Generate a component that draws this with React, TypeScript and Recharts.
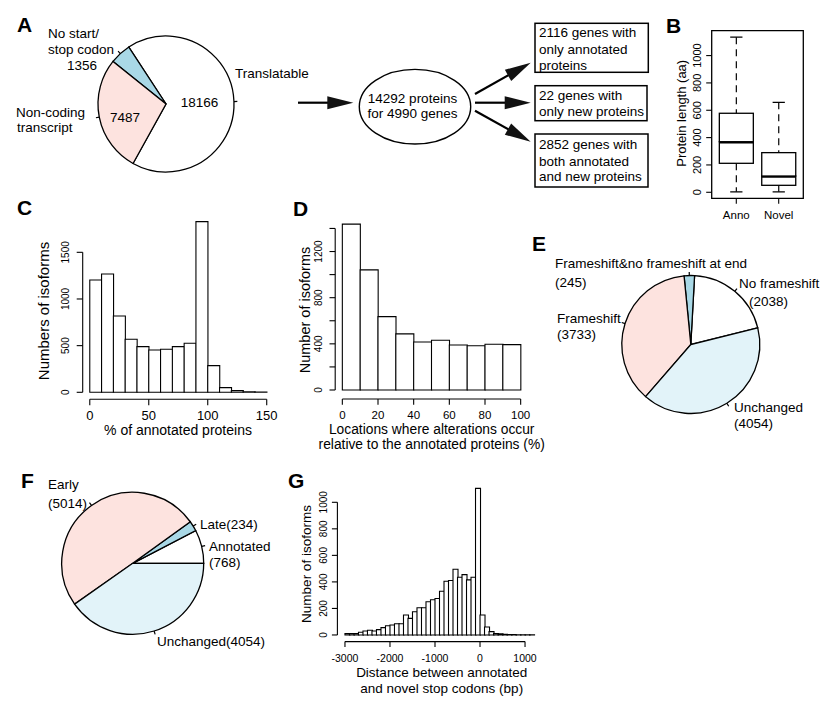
import React from "react";
import { BarChart, Bar, XAxis, YAxis, ReferenceLine, ReferenceArea, PieChart, Pie, Cell } from "recharts";

const FONT = '"Liberation Sans", Arial, Helvetica, sans-serif';
const PINK = "#fde3df";
const BLUE = "#a9d8e6";
const PALE = "#e2f3f9";
const RAD = Math.PI / 180;

// A: transcript classes
const pieANames = ["Translatable", "No start/stop codon", "Non-coding transcript"];
const pieAValues = [18166, 1356, 7487];
const pieAColors = ["#ffffff", BLUE, PINK];

// B: protein length boxplots
const boxNames = ["Anno", "Novel"];
const boxMin = [3, 3];
const boxQ1 = [212, 51];
const boxMedian = [370, 119];
const boxQ3 = [578, 290];
const boxMax = [1135, 658];
const boxYTicks = [0, 200, 400, 600, 800, 1000];

// C: % of annotated proteins
const binStartC = [0, 10, 20, 30, 40, 50, 60, 70, 80, 90, 100, 110, 120, 130, 140];
const countsC = [1204, 1268, 818, 568, 489, 454, 461, 489, 525, 1829, 286, 50, 18, 5, 3];
const xTicksC = [0, 50, 100, 150];
const yTicksC = [0, 500, 1000, 1500];

// D: alteration locations
const binStartD = [0, 10, 20, 30, 40, 50, 60, 70, 80, 90];
const countsD = [1437, 1041, 636, 486, 416, 431, 390, 384, 396, 393];
const xTicksD = [0, 20, 40, 60, 80, 100];
const yTicksD = [0, 200, 400, 600, 800, 1000, 1200, 1400];
const yLabelsD = [0, 400, 800, 1200];

// E: frameshift classes
const pieENames = ["No frameshift", "Frameshift&no frameshift at end", "Frameshift", "Unchanged"];
const pieEValues = [2038, 245, 3733, 4054];
const pieEColors = ["#ffffff", BLUE, PINK, PALE];

// F: stop codon classes
const pieFNames = ["Annotated", "Late", "Early", "Unchanged"];
const pieFValues = [768, 234, 5014, 4054];
const pieFColors = ["#ffffff", BLUE, PINK, PALE];

// G: distance between stop codons
const binStartG = [
  -3000, -2900, -2800, -2700, -2600, -2500, -2400, -2300, -2200, -2100,
  -2000, -1900, -1800, -1700, -1600, -1500, -1400, -1300, -1200, -1100,
  -1000, -900, -800, -700, -600, -500, -400, -300, -200, -100,
  0, 100, 200, 300, 400, 500, 600, 700, 800, 900, 1000, 1100,
];
const countsG = [
  10, 10, 10, 20, 30, 35, 30, 40, 55, 70,
  75, 85, 85, 150, 125, 175, 205, 205, 250, 265,
  275, 330, 405, 410, 495, 435, 455, 415, 435, 1105,
  150, 60, 25, 10, 8, 5, 3, 3, 2, 2, 1, 1,
];
const xTicksG = [-3000, -2000, -1000, 0, 1000];
const yTicksG = [0, 200, 400, 600, 800, 1000];

const toBins = (starts: number[], counts: number[], w: number) =>
  starts.map((s, i) => ({ x: s + w / 2, n: counts[i] }));

const makeXTick = (off: number, size: number, fmt: (v: number) => string = String) => (p: any) => (
  <text x={p.x} y={p.y + off} dy="0.35em" textAnchor="middle" fontSize={size} fill="#000" fontFamily={FONT}>
    {fmt(p.payload.value)}
  </text>
);

const makeYTick = (off: number, size: number, shown?: number[]) => (p: any) => {
  if (shown && !shown.includes(p.payload.value)) return <g />;
  return (
    <text transform={`translate(${p.x + off},${p.y}) rotate(-90)`} dy="0.35em" textAnchor="middle" fontSize={size} fill="#000" fontFamily={FONT}>
      {p.payload.value}
    </text>
  );
};

type HistProps = {
  left: number; top: number; width: number; height: number;
  plot: { l: number; r: number; t: number; b: number };
  data: { x: number; n: number }[];
  xDomain: [number, number]; yDomain: [number, number];
  xTicks: number[]; yTicks: number[]; yShown?: number[];
  xOff: number; yOff: number; xFont: number; yFont: number; tick: number;
};

function Histogram(p: HistProps) {
  const margin = {
    left: 0,
    top: p.plot.t - p.top,
    right: p.left + p.width - p.plot.r,
    bottom: p.top + p.height - p.plot.b - 30,
  };
  const tl = { stroke: "#000", strokeWidth: 1.1 };
  return (
    <div style={{ position: "absolute", left: p.left, top: p.top }}>
      <BarChart width={p.width} height={p.height} data={p.data} margin={margin} barCategoryGap={0} barGap={0}>
        <XAxis dataKey="x" type="number" domain={p.xDomain} ticks={p.xTicks} allowDataOverflow interval={0}
          axisLine={false} tickLine={tl} tickSize={p.tick} tickMargin={2} height={30} tick={makeXTick(p.xOff, p.xFont)} />
        <YAxis type="number" domain={p.yDomain} ticks={p.yTicks} allowDataOverflow interval={0}
          axisLine={false} tickLine={tl} tickSize={p.tick} tickMargin={2} width={p.plot.l - p.left} tick={makeYTick(p.yOff, p.yFont, p.yShown)} />
        <ReferenceLine ifOverflow="visible" stroke="#000" strokeWidth={1.1}
          segment={[{ x: p.xTicks[0], y: p.yDomain[0] }, { x: p.xTicks[p.xTicks.length - 1], y: p.yDomain[0] }]} />
        <ReferenceLine ifOverflow="visible" stroke="#000" strokeWidth={1.1}
          segment={[{ x: p.xDomain[0], y: p.yTicks[0] }, { x: p.xDomain[0], y: p.yTicks[p.yTicks.length - 1] }]} />
        <Bar dataKey="n" fill="#fff" stroke="#000" strokeWidth={1.1} isAnimationActive={false} />
      </BarChart>
    </div>
  );
}

const pieTick = (p: any) => {
  const { cx, cy, midAngle, outerRadius } = p;
  const c = Math.cos(-midAngle * RAD);
  const s = Math.sin(-midAngle * RAD);
  return (
    <line x1={cx + outerRadius * c} y1={cy + outerRadius * s} x2={cx + outerRadius * 1.05 * c} y2={cy + outerRadius * 1.05 * s}
      stroke="#000" strokeWidth={1.2} />
  );
};

type PieProps = {
  left: number; top: number; size: number; cx: number; cy: number; r: number;
  names: string[]; values: number[]; colors: string[]; start: number;
};

function PiePanel(p: PieProps) {
  const data = p.names.map((name, i) => ({ name, value: p.values[i] }));
  return (
    <div style={{ position: "absolute", left: p.left, top: p.top }}>
      <PieChart width={p.size} height={p.size} margin={{ top: 0, right: 0, bottom: 0, left: 0 }}>
        <Pie data={data} dataKey="value" cx={p.cx - p.left} cy={p.cy - p.top} outerRadius={p.r}
          startAngle={p.start} endAngle={p.start + 360} stroke="#000" strokeWidth={1.3}
          label={pieTick} labelLine={false} isAnimationActive={false}>
          {data.map((d, i) => <Cell key={d.name} fill={p.colors[i]} />)}
        </Pie>
      </PieChart>
    </div>
  );
}

// boxplot pieces
const Empty = () => <g />;
const LowerWhisker = (p: any) => {
  const cx = p.x + p.width / 2, cap = p.width * 0.18;
  return (
    <g stroke="#000" strokeWidth={1.2}>
      <line x1={cx} x2={cx} y1={p.y} y2={p.y + p.height} strokeDasharray="7 5" />
      <line x1={cx - cap} x2={cx + cap} y1={p.y + p.height} y2={p.y + p.height} />
    </g>
  );
};
const UpperWhisker = (p: any) => {
  const cx = p.x + p.width / 2, cap = p.width * 0.18;
  return (
    <g stroke="#000" strokeWidth={1.2}>
      <line x1={cx} x2={cx} y1={p.y} y2={p.y + p.height} strokeDasharray="7 5" />
      <line x1={cx - cap} x2={cx + cap} y1={p.y} y2={p.y} />
    </g>
  );
};
const LowerBox = (p: any) => (
  <g>
    <rect x={p.x} y={p.y} width={p.width} height={p.height} fill="#fff" stroke="#000" strokeWidth={1.3} />
    <line x1={p.x} x2={p.x + p.width} y1={p.y} y2={p.y} stroke="#000" strokeWidth={3.5} />
  </g>
);
const UpperBox = (p: any) => (
  <rect x={p.x} y={p.y} width={p.width} height={p.height} fill="#fff" stroke="#000" strokeWidth={1.3} />
);

function BoxPanel() {
  const data = boxNames.map((name, i) => ({
    x: i + 1,
    base: boxMin[i],
    lw: boxQ1[i] - boxMin[i],
    lb: boxMedian[i] - boxQ1[i],
    ub: boxQ3[i] - boxMedian[i],
    uw: boxMax[i] - boxQ3[i],
  }));
  const tl = { stroke: "#000", strokeWidth: 1.1 };
  return (
    <div style={{ position: "absolute", left: 640, top: 0 }}>
      <BarChart width={194} height={240} data={data} margin={{ top: 30.7, right: 30.7, left: 0, bottom: 11.7 }} barCategoryGap="10%">
        <XAxis dataKey="x" type="number" domain={[0.42, 2.58]} ticks={[1, 2]} allowDataOverflow interval={0}
          axisLine={false} tickLine={tl} tickSize={5.5} tickMargin={2} height={30}
          tick={makeXTick(9.2, 11.5, (v) => boxNames[v - 1])} />
        <YAxis type="number" domain={[-44, 1182]} ticks={boxYTicks} allowDataOverflow interval={0}
          axisLine={false} tickLine={tl} tickSize={5.5} tickMargin={2} width={71.7} tick={makeYTick(-7.5, 11)} />
        <ReferenceArea x1={0.42} x2={2.58} y1={-44} y2={1182} fill="none" stroke="#000" strokeWidth={1.3} ifOverflow="visible" />
        <Bar dataKey="base" stackId="b" shape={Empty} isAnimationActive={false} />
        <Bar dataKey="lw" stackId="b" shape={LowerWhisker} isAnimationActive={false} />
        <Bar dataKey="lb" stackId="b" shape={LowerBox} isAnimationActive={false} />
        <Bar dataKey="ub" stackId="b" shape={UpperBox} isAnimationActive={false} />
        <Bar dataKey="uw" stackId="b" shape={UpperWhisker} isAnimationActive={false} />
      </BarChart>
    </div>
  );
}

const T = ({ x, y, s = 13.5, a = "start", rot = false, b = false, children }: any) =>
  rot ? (
    <text transform={`translate(${x},${y}) rotate(-90)`} dy="0.35em" textAnchor="middle" fontSize={s} fill="#000">{children}</text>
  ) : (
    <text x={x} y={y} dy="0.35em" textAnchor={a} fontSize={s} fontWeight={b ? "bold" : "normal"} fill="#000">{children}</text>
  );

function Arrow({ x1, y1, x2, y2 }: { x1: number; y1: number; x2: number; y2: number }) {
  const ang = Math.atan2(y2 - y1, x2 - x1);
  const L = 26, hw = 6.5;
  const bx = x2 - L * Math.cos(ang), by = y2 - L * Math.sin(ang);
  const px = -Math.sin(ang) * hw, py = Math.cos(ang) * hw;
  return (
    <g>
      <line x1={x1} y1={y1} x2={bx + 2 * Math.cos(ang)} y2={by + 2 * Math.sin(ang)} stroke="#000" strokeWidth={2.2} />
      <polygon points={`${x2},${y2} ${bx + px},${by + py} ${bx - px},${by - py}`} fill="#111" />
    </g>
  );
}

function Overlay() {
  return (
    <svg width={834} height={701} style={{ position: "absolute", left: 0, top: 0, pointerEvents: "none" }} fontFamily={FONT}>
      {/* panel letters */}
      <T x={17} y={25} s={21} b>A</T>
      <T x={666} y={26} s={21} b>B</T>
      <T x={17} y={208} s={21} b>C</T>
      <T x={293} y={209} s={21} b>D</T>
      <T x={532} y={244} s={21} b>E</T>
      <T x={21} y={481} s={21} b>F</T>
      <T x={288} y={481} s={21} b>G</T>

      {/* A labels */}
      <T x={48} y={33}>No start/</T>
      <T x={48} y={49}>stop codon</T>
      <T x={67} y={65}>1356</T>
      <T x={235} y={73}>Translatable</T>
      <T x={16} y={112}>Non-coding</T>
      <T x={17} y={127}>transcript</T>
      <T x={199.5} y={102} a="middle">18166</T>
      <T x={125} y={117} a="middle">7487</T>

      {/* flow diagram */}
      <Arrow x1={298} y1={102.7} x2={353.3} y2={102.7} />
      <ellipse cx={415} cy={106.7} rx={55.7} ry={37.3} fill="#fff" stroke="#000" strokeWidth={1.4} />
      <T x={412.5} y={98.3} a="middle">14292 proteins</T>
      <T x={412.5} y={113.3} a="middle">for 4990 genes</T>
      <Arrow x1={475} y1={94} x2={530.7} y2={62.7} />
      <Arrow x1={475} y1={102.7} x2={530.7} y2={102.7} />
      <Arrow x1={475} y1={110.7} x2={530.7} y2={141.7} />
      <rect x={535} y={23.3} width={113.3} height={49} fill="#fff" stroke="#000" strokeWidth={1.5} />
      <rect x={535} y={85.7} width={112} height={35} fill="#fff" stroke="#000" strokeWidth={1.5} />
      <rect x={535} y={134} width={113} height={53} fill="#fff" stroke="#000" strokeWidth={1.5} />
      <T x={539} y={32.3}>2116 genes with</T>
      <T x={539} y={49.3}>only annotated</T>
      <T x={539} y={65.7}>proteins</T>
      <T x={539} y={95}>22 genes with</T>
      <T x={539} y={111.7}>only new proteins</T>
      <T x={539} y={144}>2852 genes with</T>
      <T x={539} y={161}>both annotated</T>
      <T x={539} y={176.7}>and new proteins</T>

      {/* B title */}
      <T x={681.7} y={113.3} s={13} rot>Protein length (aa)</T>

      {/* C titles */}
      <T x={43.5} y={311} s={15} rot>Numbers of isoforms</T>
      <T x={178} y={430} s={14} a="middle">% of annotated proteins</T>

      {/* D titles */}
      <T x={305} y={310} s={14.5} rot>Number of isoforms</T>
      <T x={431.7} y={429.5} s={13.8} a="middle">Locations where alterations occur</T>
      <T x={431.7} y={443.8} s={13.8} a="middle">relative to the annotated proteins (%)</T>

      {/* E labels */}
      <T x={555} y={263}>Frameshift&amp;no frameshift at end</T>
      <T x={555} y={282}>(245)</T>
      <T x={739} y={283}>No frameshift</T>
      <T x={749} y={301}>(2038)</T>
      <T x={557} y={318}>Frameshift</T>
      <T x={557} y={334}>(3733)</T>
      <T x={734} y={407}>Unchanged</T>
      <T x={734} y={423}>(4054)</T>

      {/* F labels */}
      <T x={48} y={484}>Early</T>
      <T x={48} y={503}>(5014)</T>
      <T x={200} y={524}>Late(234)</T>
      <T x={209} y={546}>Annotated</T>
      <T x={209} y={562}>(768)</T>
      <T x={157} y={641}>Unchanged(4054)</T>

      {/* G titles */}
      <T x={306.7} y={564} s={13.5} rot>Number of isoforms</T>
      <T x={441.7} y={672.7} s={13.5} a="middle">Distance between annotated</T>
      <T x={441.7} y={688.3} s={13.5} a="middle">and novel stop codons (bp)</T>
    </svg>
  );
}

export default function App() {
  return (
    <div style={{ position: "absolute", left: 0, top: 0, width: 834, height: 701, background: "#fff", fontFamily: FONT, overflow: "hidden" }}>
      <PiePanel left={60} top={20} size={220} cx={166} cy={104} r={68}
        names={pieANames} values={pieAValues} colors={pieAColors} start={241} />
      <BoxPanel />
      <Histogram left={0} top={200} width={290} height={250}
        plot={{ l: 82.7, r: 273.8, t: 214.8, b: 399.3 }}
        data={toBins(binStartC, countsC, 10)} xDomain={[-6, 156]} yDomain={[-75, 1902]}
        xTicks={xTicksC} yTicks={yTicksC} xOff={7.7} yOff={-9.7} xFont={13} yFont={10} tick={6} />
      <Histogram left={280} top={200} width={270} height={250}
        plot={{ l: 335.2, r: 527.8, t: 216.9, b: 399 }}
        data={toBins(binStartD, countsD, 10)} xDomain={[-4, 104]} yDomain={[-78, 1500]}
        xTicks={xTicksD} yTicks={yTicksD} yShown={yLabelsD} xOff={7.8} yOff={-9.2} xFont={11.5} yFont={10} tick={5.7} />
      <PiePanel left={600} top={250} size={190} cx={690.8} cy={344.5} r={69}
        names={pieENames} values={pieEValues} colors={pieEColors} start={14} />
      <PiePanel left={40} top={470} size={200} cx={132.7} cy={563.3} r={71}
        names={pieFNames} values={pieFValues} colors={pieFColors} start={0} />
      <Histogram left={290} top={460} width={260} height={241}
        plot={{ l: 337.4, r: 541.6, t: 482.4, b: 641.6 }}
        data={toBins(binStartG, countsG, 100)} xDomain={[-3168, 1368]} yDomain={[-50, 1150]}
        xTicks={xTicksG} yTicks={yTicksG} xOff={9.2} yOff={-6.6} xFont={10.5} yFont={10} tick={5.5} />
      <Overlay />
    </div>
  );
}
